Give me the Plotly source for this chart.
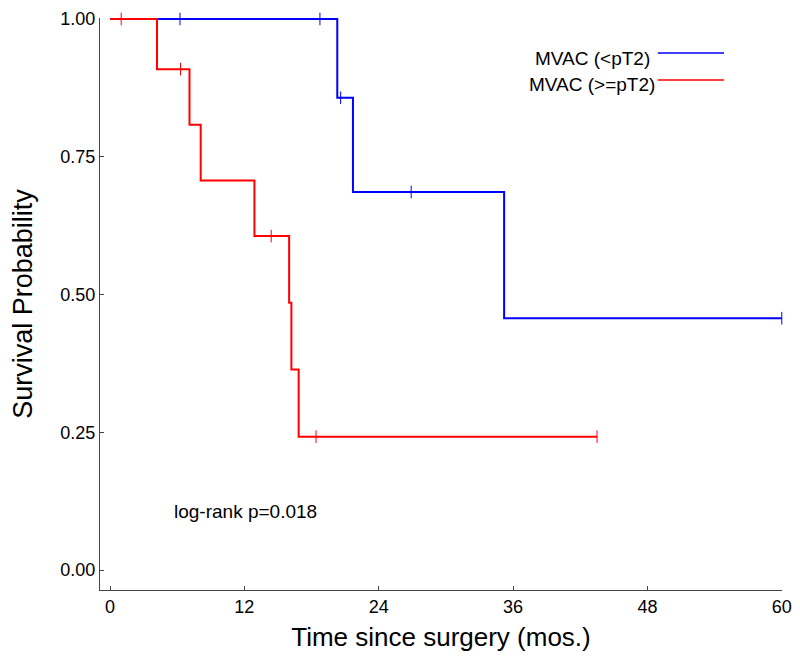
import plotly.graph_objects as go

# Kaplan-Meier step data
blue_t = [0, 20.3, 21.7, 35.2, 60]
blue_s = [1.0, 0.857, 0.686, 0.457, 0.457]
blue_cens_t = [6.25, 18.75, 20.6, 26.9, 60]
blue_cens_s = [1.0, 1.0, 0.857, 0.686, 0.457]

red_t = [0, 4.2, 7.1, 8.1, 12.9, 16.0, 16.2, 16.85, 43.5]
red_s = [1.0, 0.909, 0.808, 0.707, 0.606, 0.485, 0.364, 0.242, 0.242]
red_cens_t = [1.0, 6.3, 14.4, 18.4, 43.5]
red_cens_s = [1.0, 0.909, 0.606, 0.242, 0.242]

x_ticks = [0, 12, 24, 36, 48, 60]
y_ticks = [0.0, 0.25, 0.5, 0.75, 1.0]
y_tick_text = ["0.00", "0.25", "0.50", "0.75", "1.00"]

series = [
    ("MVAC (<pT2)", "#0000FF", blue_t, blue_s, blue_cens_t, blue_cens_s),
    ("MVAC (>=pT2)", "#FF0000", red_t, red_s, red_cens_t, red_cens_s),
]

FONT = "Liberation Sans, Arial, sans-serif"
TICK_FONT = dict(family=FONT, size=18, color="black")
TEXT_FONT = dict(family=FONT, size=19, color="black")

fig = go.Figure()
for name, color, t, s, ct, cs in series:
    fig.add_trace(
        go.Scatter(
            x=t, y=s, mode="lines", name=name,
            line=dict(color=color, width=2, shape="hv"),
            showlegend=False, cliponaxis=False,
        )
    )
    fig.add_trace(
        go.Scatter(
            x=ct, y=cs, mode="markers", name=name + " censored",
            marker=dict(symbol="line-ns", size=9, line=dict(color=color, width=1)),
            showlegend=False, cliponaxis=False,
        )
    )

# legend drawn by hand: text right-aligned, line sample on the right
legend_pos = [(0.8094, 0.930, 0.9388), (0.8167, 0.8829, 0.8916)]
for (name, color, *_rest), (tx, ty, ly) in zip(series, legend_pos):
    fig.add_shape(
        type="line", xref="paper", yref="paper",
        x0=0.818, x1=0.915, y0=ly, y1=ly,
        line=dict(color=color, width=1.5),
    )
    fig.add_annotation(
        x=tx, y=ty, xref="paper", yref="paper", text=name,
        showarrow=False, xanchor="right", yanchor="middle", font=TEXT_FONT,
    )

fig.add_annotation(
    x=0.1056, y=0.1364, xref="paper", yref="paper", text="log-rank p=0.018",
    showarrow=False, xanchor="left", yanchor="middle", font=TEXT_FONT,
)

fig.update_xaxes(
    range=[-0.893, 60.02], tickvals=x_ticks, ticks="inside", ticklen=4,
    tickcolor="#444", showline=True, linecolor="#444", linewidth=1,
    showgrid=False, zeroline=False, tickfont=TICK_FONT, automargin=False,
    title=dict(text="Time since surgery (mos.)", standoff=12,
               font=dict(family=FONT, size=26, color="black")),
)
fig.update_yaxes(
    range=[-0.0363, 1.0018], tickvals=y_ticks, ticktext=y_tick_text,
    ticks="inside", ticklen=4, tickcolor="#444", showline=True,
    linecolor="#444", linewidth=1, showgrid=False, zeroline=False,
    tickfont=TICK_FONT, automargin=False,
    title=dict(text="Survival Probability", standoff=23,
               font=dict(family=FONT, size=27, color="black")),
)
# page body has an 8px margin, so the figure is drawn 16px smaller
fig.update_layout(
    width=784, height=644,
    margin=dict(l=92, r=10, t=10, b=62),
    plot_bgcolor="white", paper_bgcolor="white",
)

fig.write_html("out.html")
